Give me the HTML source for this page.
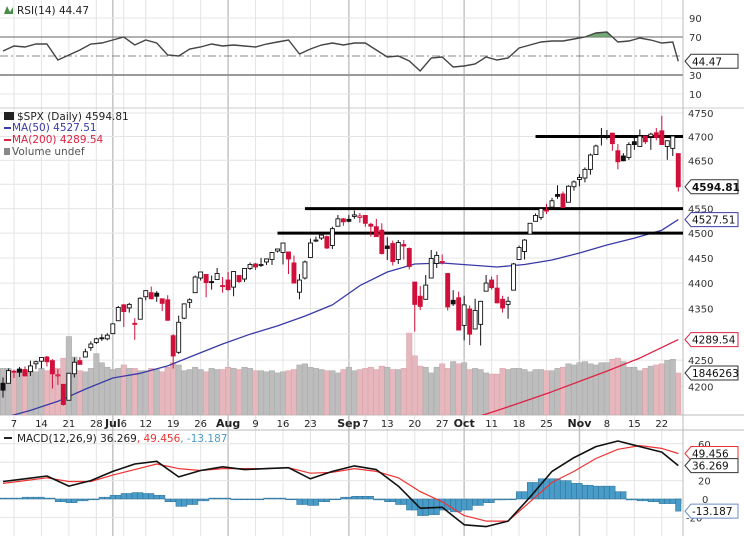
<!DOCTYPE html>
<html><head><meta charset="utf-8"><style>
body{margin:0;background:#fff}
svg{display:block;font-family:"DejaVu Sans","Liberation Sans",sans-serif}
</style></head><body>
<svg id="c" width="744" height="536" viewBox="0 0 744 536"></svg>
<script>
const dates=["Jun3","Jun4","Jun7","Jun8","Jun9","Jun10","Jun11","Jun14","Jun15","Jun16","Jun17","Jun18","Jun21","Jun22","Jun23","Jun24","Jun25","Jun28","Jun29","Jun30",
"Jul1","Jul2","Jul6","Jul7","Jul8","Jul9","Jul12","Jul13","Jul14","Jul15","Jul16","Jul19","Jul20","Jul21","Jul22","Jul23","Jul26","Jul27","Jul28","Jul29","Jul30",
"Aug2","Aug3","Aug4","Aug5","Aug6","Aug9","Aug10","Aug11","Aug12","Aug13","Aug16","Aug17","Aug18","Aug19","Aug20","Aug23","Aug24","Aug25","Aug26","Aug27","Aug30","Aug31",
"Sep1","Sep2","Sep3","Sep7","Sep8","Sep9","Sep10","Sep13","Sep14","Sep15","Sep16","Sep17","Sep20","Sep21","Sep22","Sep23","Sep24","Sep27","Sep28","Sep29","Sep30",
"Oct1","Oct4","Oct5","Oct6","Oct7","Oct8","Oct11","Oct12","Oct13","Oct14","Oct15","Oct18","Oct19","Oct20","Oct21","Oct22","Oct25","Oct26","Oct27","Oct28","Oct29",
"Nov1","Nov2","Nov3","Nov4","Nov5","Nov8","Nov9","Nov10","Nov11","Nov12","Nov15","Nov16","Nov17","Nov18","Nov19","Nov22","Nov23","Nov24","Nov26"];
const opens=[4206,4206,4229,4233,4232,4228,4243,4248,4256,4249,4220,4204,4174,4224,4249,4256,4274,4284,4293,4291,
4301,4326,4357,4351,4321,4329,4373,4381,4380,4369,4367,4297,4265,4331,4362,4381,4410,4417,4403,4407,4395,
4406,4392,4415,4408,4429,4438,4436,4442,4447,4464,4461,4462,4440,4382,4410,4451,4484,4490,4493,4475,4514,4529,
4528,4534,4532,4536,4518,4513,4506,4474,4479,4447,4477,4469,4402,4374,4368,4410,4439,4442,4419,4366,4371,
4317,4349,4310,4319,4384,4406,4390,4368,4358,4386,4447,4463,4498,4524,4532,4547,4553,4579,4580,4563,4595,
4610,4613,4631,4662,4700,4702,4707,4670,4659,4656,4689,4679,4701,4700,4708,4712,4679,4675,4664];
const highs=[4217,4234,4232,4237,4238,4249,4249,4255,4258,4252,4233,4204,4226,4255,4256,4272,4286,4293,4300,4302,
4321,4355,4359,4361,4331,4372,4386,4393,4384,4369,4376,4300,4336,4360,4370,4415,4422,4418,4415,4430,4412,
4422,4423,4416,4430,4441,4440,4450,4449,4461,4468,4480,4462,4455,4418,4445,4489,4493,4501,4495,4513,4537,4531,
4537,4546,4541,4536,4521,4529,4520,4492,4485,4486,4486,4471,4402,4394,4416,4466,4463,4457,4419,4386,4383,
4375,4356,4369,4365,4416,4413,4416,4375,4373,4440,4475,4488,4520,4540,4551,4560,4572,4598,4585,4598,4608,
4621,4635,4664,4683,4718,4714,4708,4684,4665,4688,4698,4715,4701,4708,4718,4744,4692,4703,4664];
const lows=[4179,4206,4216,4218,4219,4220,4233,4234,4238,4196,4203,4164,4174,4217,4241,4256,4268,4281,4287,4288,
4300,4326,4314,4342,4289,4329,4366,4368,4363,4345,4326,4234,4262,4329,4351,4381,4405,4372,4387,4407,4381,
4385,4374,4400,4402,4426,4426,4432,4436,4436,4461,4437,4418,4400,4368,4407,4451,4482,4486,4468,4468,4514,4515,
4522,4529,4521,4513,4493,4493,4457,4446,4435,4438,4447,4427,4305,4347,4367,4410,4430,4437,4346,4355,4307,
4288,4279,4310,4278,4384,4387,4360,4342,4330,4386,4447,4447,4498,4524,4527,4539,4547,4570,4552,4563,4587,
4596,4604,4620,4662,4681,4694,4670,4631,4648,4651,4672,4679,4684,4672,4692,4682,4651,4659,4585];
const closes=[4193,4230,4227,4227,4220,4239,4247,4255,4247,4224,4222,4166,4225,4246,4242,4266,4281,4291,4292,4298,
4320,4352,4344,4358,4321,4370,4385,4369,4374,4360,4327,4258,4323,4359,4367,4412,4422,4401,4401,4419,4395,
4387,4423,4403,4429,4437,4432,4437,4448,4461,4468,4480,4448,4400,4406,4442,4480,4486,4496,4470,4509,4529,4523,
4524,4537,4535,4520,4514,4493,4459,4469,4443,4481,4474,4433,4358,4354,4396,4449,4455,4443,4353,4359,4308,
4357,4300,4346,4364,4400,4391,4361,4351,4364,4438,4471,4486,4520,4536,4550,4545,4566,4575,4552,4596,4605,
4614,4631,4661,4680,4698,4702,4685,4647,4649,4683,4683,4701,4689,4705,4698,4683,4691,4701,4594.81];
const volumes=[2050,2050,1900,2000,1950,1950,1900,2050,1950,2000,2050,2500,3450,2550,1950,1900,2050,2700,2300,2100,
2000,2050,2200,2050,2050,1950,1950,2050,2000,1900,2100,2300,2200,1950,2000,2100,2000,1900,2050,2000,2000,
2100,2050,2000,2100,2050,1950,1950,1900,1950,1850,1900,1950,2000,2200,2250,2100,2050,2000,1950,1950,1850,2000,
2100,1950,2000,2050,2100,2000,2150,2100,2000,2000,2050,3600,2600,2150,2100,1850,2100,2250,2050,2350,2250,
2300,2000,2050,2000,1850,1800,1800,2050,2000,2050,2050,2000,1900,2000,2000,1950,1950,2050,2100,2250,2200,
2300,2350,2250,2200,2300,2300,2450,2500,2350,2100,2100,1950,2050,2150,2200,2250,2400,2450,1846];
const ma50Idx=[0,5,10,15,20,25,30,35,40,45,50,55,60,65,70,75,80,85,90,95,100,105,110,115,120,123];
const ma50Vals=[4141,4155,4172,4195,4216,4225,4239,4260,4281,4300,4316,4335,4357,4395,4422,4438,4440,4436,4432,4437,4446,4460,4476,4490,4506,4527.51];
const ma200Idx=[84,88,93,100,110,116,123];
const ma200Vals=[4135,4148,4165,4190,4229,4254,4289.54];
const rsiIdx=[0,2,4,6,8,10,12,14,16,18,20,22,24,26,28,30,32,34,36,38,40,42,44,46,48,50,52,54,56,58,60,62,64,66,68,70,72,74,76,78,80,82,84,86,88,90,92,94,96,98,100,102,104,106,108,110,112,114,116,118,120,122,123];
const rsiVals=[55.3,60.5,59.5,62.6,62.6,45.8,51,56.3,62.6,63.7,66.8,70,61.6,66.8,63.7,51,50,57.4,59.5,62.6,60.5,61.6,60.5,59.5,62.6,64.7,66.8,52.1,57.4,61.6,63.7,61.6,63.7,63.7,56.3,48.9,50,44.7,34.2,47.9,48.9,38.4,39.5,41.6,48.9,45.8,47.9,58.4,61.6,64.7,65.8,65.8,67.9,70,74.2,75.3,64.7,65.8,68.9,66.8,63.7,64.7,44.47];
const macdIdx=[0,4,8,12,16,20,24,28,32,36,40,44,48,52,56,60,64,68,72,76,80,84,88,92,96,100,104,108,112,116,120,123];
const macdVals=[19,22,25,14,20,30,38,41,24,31,35,32,33,34,22,30,36,32,14,-10,-9,-28,-30,-24,2,30,45,57,63,57,51,36.269];
const signalVals=[17,20,23,19,19,26,32,38,33,31,33,33,33,34,28,29,33,30,23,8,-3,-18,-24,-24,-3,18,30,44,54,58,55,49.456];
const histIdx=[0,2,4,6,8,10,12,14,16,18,20,22,24,26,28,30,32,34,36,38,40,42,44,46,48,50,52,54,56,58,60,62,64,66,68,70,72,74,76,78,80,82,84,86,88,90,92,94,96,98,100,102,104,106,108,110,112,114,116,118,120,122];
const histVals=[1,1,2,2,1,-3,-4,-2,0,2,4,6,7,6,4,-3,-8,-6,-2,1,1,0,0,0,1,1,0,-6,-7,-3,0,2,3,3,-1,-3,-6,-12,-18,-17,-12,-14,-12,-7,-4,-1,0,8,18,22,22,20,17,15,14,14,8,-1,-2,-3,-5,-5];
const lastHist=-13.187;
const tickIdx=[2,7,12,17,20,22,26,31,36,41,46,51,56,63,66,70,75,80,84,89,94,99,105,110,115,120];
const tickLbl=["7","14","21","28","Jul","6","12","19","26","Aug","9","16","23","Sep","7","13","20","27","Oct","11","18","25","Nov","8","15","22"];
const monthTick=[20,41,63,84,105];
const priceTicks=[4750,4700,4650,4600,4550,4500,4450,4400,4350,4300,4250,4200];
const rsiTicks=[90,70,50,30,10];
const macdTicks=[60,40,20,0,-20];
const supportLvls=[4700,4550,4500];
const supportStart=[97,55,50];

const NS="http://www.w3.org/2000/svg",svg=document.getElementById('c');
const R=683;
const xI=i=>3+i*5.49;
const yP=p=>113+2222*Math.log(4750/p);
const yR=v=>56-(v-50)*0.95;
const yM=v=>499-v*0.92;
const yV=v=>415-v/1846*42;
function el(t,a,p){const e=document.createElementNS(NS,t);for(const k in a)e.setAttribute(k,a[k]);(p||svg).appendChild(e);return e;}
function txt(x,y,s,a,p){const e=el('text',Object.assign({x:x,y:y,'font-size':10},a||{}),p);e.textContent=s;return e;}

const defs=el('defs',{});
const cp=el('clipPath',{id:'pc'},defs);el('rect',{x:0,y:108,width:R,height:307},cp);
const cm=el('clipPath',{id:'mc'},defs);el('rect',{x:0,y:430,width:R,height:106},cm);

const grid=el('g',{});

tickIdx.forEach((ti)=>{const m=monthTick.includes(ti);
 el('line',{x1:xI(ti),x2:xI(ti),y1:0,y2:536,stroke:m?'#c4c4c4':'#e4e4e4','stroke-width':m?1.5:1},grid);});
priceTicks.forEach(p=>el('line',{x1:0,x2:R,y1:yP(p),y2:yP(p),stroke:'#e4e4e4'},grid));
rsiTicks.forEach(v=>{if(v===50)el('line',{x1:0,x2:R,y1:yR(v),y2:yR(v),stroke:'#888','stroke-dasharray':'8,3,2,3'},grid);
 else if(v===70||v===30)el('line',{x1:0,x2:R,y1:yR(v),y2:yR(v),stroke:v===30?'#999':'#666','stroke-width':v===30?2:1},grid);
 else el('line',{x1:0,x2:R,y1:yR(v),y2:yR(v),stroke:'#e4e4e4'},grid);});
macdTicks.forEach(v=>el('line',{x1:0,x2:R,y1:yM(v),y2:yM(v),stroke:'#e4e4e4'},grid));
el('line',{x1:0,x2:744,y1:108,y2:108,stroke:'#ccc'});
el('line',{x1:0,x2:744,y1:415,y2:415,stroke:'#bbb'});
el('line',{x1:0,x2:744,y1:430,y2:430,stroke:'#bbb'});
el('line',{x1:R,x2:R,y1:0,y2:536,stroke:'#bbb'});

const rg=el('g',{});
let rp='';rsiIdx.forEach((ix,k)=>{rp+=(k?'L':'M')+xI(ix).toFixed(1)+','+yR(rsiVals[k]).toFixed(1);});
const rcp=el('clipPath',{id:'ob'},defs);el('rect',{x:0,y:0,width:R,height:yR(70)},rcp);
el('path',{d:rp+'L'+xI(rsiIdx[rsiIdx.length-1])+','+yR(70)+'L0,'+yR(70)+'Z',fill:'#5d9a5d','clip-path':'url(#ob)',opacity:0.85},rg);
const rl=el('path',{d:rp,fill:'none',stroke:'#444','stroke-width':1.4},rg);


const vg=el('g',{'clip-path':'url(#pc)'});
volumes.forEach((v,i)=>{const dn=i>0&&closes[i]<closes[i-1];
 const b=el('rect',{x:xI(i)-2.75,y:yV(v),width:5.49,height:415-yV(v),fill:dn?'#e6b8bd':'#bdbdbd',stroke:dn?'#d8a0a8':'#a8a8a8','stroke-width':0.5},vg);
 });

function line(ix,vals,f,col,w,g,name){let d='';ix.forEach((i,k)=>{d+=(k?'L':'M')+xI(i).toFixed(1)+','+f(vals[k]).toFixed(1);});
 const p=el('path',{d:d,fill:'none',stroke:col,'stroke-width':w,'stroke-linejoin':'round'},g);return p;}
const mg=el('g',{'clip-path':'url(#pc)'});
line(ma50Idx,ma50Vals,yP,'#3a3aa8',1.3,mg,'ma50-line');
line(ma200Idx,ma200Vals,yP,'#dd2244',1.3,mg,'ma200-line');

supportLvls.forEach((p,k)=>{const s=el('line',{x1:xI(supportStart[k]),x2:R,y1:yP(p),y2:yP(p),stroke:'#000','stroke-width':3});
 });

const cg=el('g',{'clip-path':'url(#pc)'});
closes.forEach((c,i)=>{const o=opens[i];const dn=i>0&&c<closes[i-1];const col=dn?'#d0103a':'#111';
 const x=xI(i);
 el('line',{x1:x,x2:x,y1:yP(highs[i]),y2:yP(lows[i]),stroke:col,'stroke-width':1},cg);
 const t=yP(Math.max(o,c)),h=Math.max(1,Math.abs(yP(o)-yP(c)));
 const b=el('rect',{x:x-2,y:t,width:4,height:h,fill:c>o?'#fff':col,stroke:col,'stroke-width':0.9},cg);
 });

const hg=el('g',{'clip-path':'url(#mc)'});
function hbar(x,w,v){const y=Math.min(yM(0),yM(v)),h=Math.max(0.8,Math.abs(yM(v)-yM(0)));
 const b=el('rect',{x:x,y:y,width:w,height:h,fill:'#4a9cc8',stroke:'#2b6f96','stroke-width':0.5},hg);
 }
histIdx.forEach((ix,k)=>{hbar(xI(ix)-2.75,5.49,histVals[k]);hbar(xI(ix)+2.74,5.49,histVals[k]);});
hbar(xI(123)-2.75,5.49,lastHist);
const lg=el('g',{'clip-path':'url(#mc)'});
line(macdIdx,signalVals,yM,'#ee3333',1.2,lg,'signal-line');
line(macdIdx,macdVals,yM,'#111',1.6,lg,'macd-line');

const ax=el('g',{});
tickIdx.forEach((ti,k)=>{const m=monthTick.includes(ti);
 const t=txt(xI(ti),427,tickLbl[k],{'text-anchor':'middle','font-weight':m?'bold':'normal','font-size':m?11:10,fill:'#222'},ax);
 });
priceTicks.forEach(p=>{if(p===4600||p===4300)return;const t=txt(688,yP(p)+4,String(p),{fill:'#333'},ax);});
rsiTicks.forEach(v=>{if(v===50)return;const t=txt(689,yR(v)+4,String(v),{fill:'#333'},ax);});
macdTicks.forEach(v=>{if(v===40)return;const t=txt(v<0?686:(v===0?702:698),yM(v)+4,String(v),{fill:'#333'},ax);});

function tag(y,s,border,bold,name){const g=el('g',{});
 el('path',{d:`M685,${y} L691,${y-7} L738,${y-7} L738,${y+7} L691,${y+7} Z`,fill:'#fff',stroke:border,'stroke-width':1},g);
 txt(692,y+4,s,{'font-weight':bold?'bold':'normal','font-size':10.5,fill:'#111'},g);}
tag(yR(44.47),'44.47','#333',false,'rsi-value-tag');
tag(yP(4594.81),'4594.81','#333',true,'price-value-tag');
tag(yP(4527.51),'4527.51','#3a3aa8',false,'ma50-value-tag');
tag(yP(4289.54),'4289.54','#dd2244',false,'ma200-value-tag');
tag(yV(1846),'1846263','#333',false,'volume-value-tag');
tag(yM(49.456),'49.456','#ee3333',false,'signal-value-tag');
tag(yM(36.269),'36.269','#333',false,'macd-value-tag');
tag(yM(lastHist),'-13.187','#6a8fc8',false,'histogram-value-tag');

function leg(x,y,parts,name){const t=el('text',{x:x,y:y,'font-size':10.5},svg);
 parts.forEach(p=>{const s=el('tspan',{fill:p[1]},t);s.textContent=p[0];});}
el('path',{d:'M4,14 L7,6 L10,12 L13,7 L13,14Z',fill:'#4a8a4a'});
leg(17,14,[['RSI(14) 44.47','#222']],'rsi-legend');
el('rect',{x:4,y:112,width:10,height:8,fill:'#222'});
leg(17,120,[['$SPX (Daily) 4594.81','#222']],'price-legend');
el('rect',{x:4,y:127,width:7,height:2,fill:'#3a3aa8'});
leg(12,131,[['MA(50) 4527.51','#3a3aa8']],'ma50-legend');
el('rect',{x:4,y:139,width:7,height:2,fill:'#dd2244'});
leg(12,143,[['MA(200) 4289.54','#dd2244']],'ma200-legend');
el('rect',{x:4,y:148,width:6,height:7,fill:'#888'});
leg(12,155,[['Volume undef','#555']],'volume-legend');
el('rect',{x:4,y:437,width:8,height:2,fill:'#222'});
leg(17,442,[['MACD(12,26,9) 36.269','#222'],[', 49.456','#ee3333'],[', -13.187','#4a9cc8']],'macd-legend');
</script>
</body></html>
